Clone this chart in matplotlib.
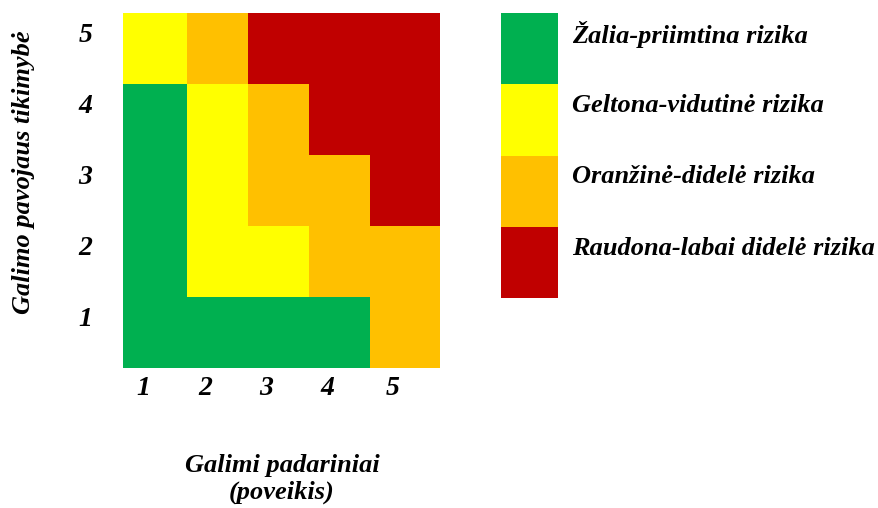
import numpy as np
import matplotlib
matplotlib.use('Agg')
import matplotlib.pyplot as plt
from matplotlib.colors import ListedColormap
from matplotlib.transforms import ScaledTranslation

# risk level per cell: rows = likelihood 1..5 (bottom to top), cols = impact 1..5
# 0 green, 1 yellow, 2 orange, 3 red
risk = [
    [0, 0, 0, 0, 2],  # 1
    [0, 1, 1, 2, 2],  # 2
    [0, 1, 2, 2, 3],  # 3
    [0, 1, 2, 3, 3],  # 4
    [1, 2, 3, 3, 3],  # 5
]
impact_labels = ['1', '2', '3', '4', '5']
likelihood_labels = ['1', '2', '3', '4', '5']
level_names = ['Žalia-priimtina rizika', 'Geltona-vidutinė rizika',
               'Oranžinė-didelė rizika', 'Raudona-labai didelė rizika']
level_colors = ['#00B050', '#FFFF00', '#FFC000', '#C00000']

plt.rcParams['font.family'] = ['Liberation Serif', 'DejaVu Serif']
font = dict(fontweight='bold', fontstyle='italic')

W, H = 879, 508
fig = plt.figure(figsize=(W / 100, H / 100), dpi=100)

# matrix
ax = fig.add_axes([123 / W, 1 - 368 / H, 317 / W, 355 / H])
x_edges = [0, 1.01, 1.97, 2.93, 3.89, 5.0]
y_edges = np.arange(6)
ax.pcolormesh(x_edges, y_edges, np.array(risk), cmap=ListedColormap(level_colors),
              vmin=-0.5, vmax=3.5)
ax.set_xlim(0, 5)
ax.set_ylim(0, 5)
for s in ax.spines.values():
    s.set_visible(False)
ax.tick_params(length=0)
xc = [(x_edges[i] + x_edges[i + 1]) / 2 for i in range(5)]
ax.set_xticks(xc)
ax.set_xticklabels(impact_labels, fontsize=20, **font)
ax.set_yticks(np.arange(5) + 0.5)
ax.set_yticklabels(likelihood_labels, fontsize=20, **font)
ax.tick_params(axis='x', pad=6)
ax.tick_params(axis='y', pad=22)
for lab in ax.get_xticklabels():
    lab.set_transform(lab.get_transform() + ScaledTranslation(-0.12, 0, fig.dpi_scale_trans))
for lab in ax.get_yticklabels():
    lab.set_transform(lab.get_transform() + ScaledTranslation(0, 0.16, fig.dpi_scale_trans))

fig.text(24 / W, 1 - 172 / H, 'Galimo pavojaus tikimybė', rotation=90,
         ha='center', va='center', fontsize=19, **font)
fig.text(282 / W, 1 - 479 / H, 'Galimi padariniai\n(poveikis)', ha='center',
         va='center', fontsize=19, linespacing=1.2, **font)

# legend
lax = fig.add_axes([501 / W, 1 - 298 / H, 57 / W, 285 / H])
n = len(level_names)
pos = np.arange(n)[::-1]
lax.barh(pos, [1] * n, height=1.0, left=0, color=level_colors)
lax.set_xlim(0, 1)
lax.set_ylim(-0.5, n - 0.5)
lax.axis('off')
for p, name in zip(pos, level_names):
    lax.text(1.25, p + 0.2, name, ha='left', va='center', fontsize=19,
             clip_on=False, **font)

fig.savefig('out.png', dpi=100)
